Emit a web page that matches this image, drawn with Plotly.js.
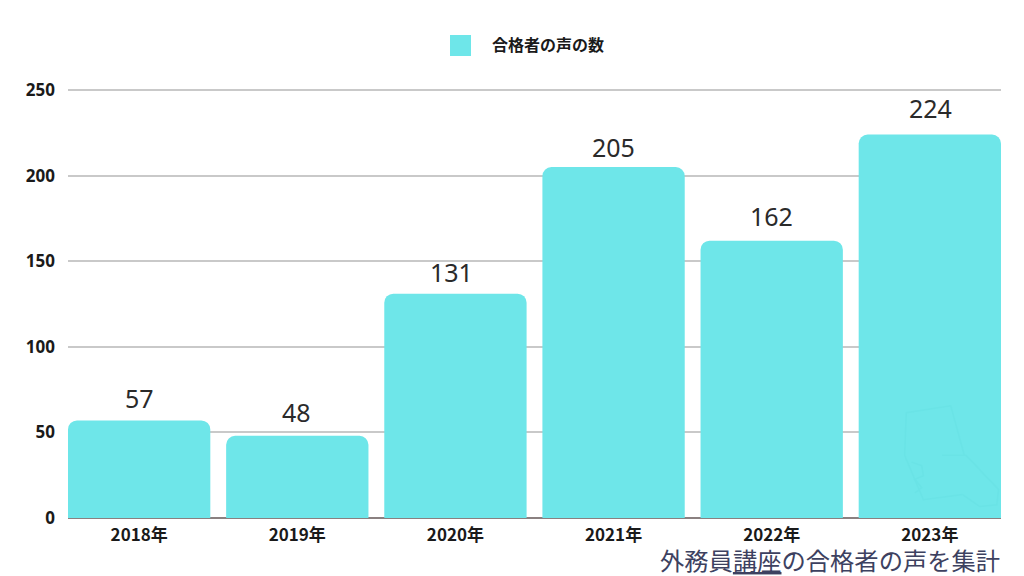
<!DOCTYPE html>
<html><head><meta charset="utf-8">
<script src="https://cdn.plot.ly/plotly-3.0.1.min.js"></script>
<style>html,body{margin:0;padding:0;background:#fff}#c{width:1024px;height:576px}</style>
</head><body><div id="c"></div>
<script>
const categories = ["2018年","2019年","2020年","2021年","2022年","2023年"];
const values = [57,48,131,205,162,224];
const seriesName = "合格者の声の数";
const footnote = "外務員<u>講座</u>の合格者の声を集計";
const yTicks = [0,50,100,150,200,250];
const labelShiftX = [0,-1,-4,0,0,1];
const labelShiftY = [3,5,3,1,6,8];
const W=1024,H=576,L=68,R=1001,T=88,B=518;
const font='"Noto Sans CJK JP","Noto Sans",sans-serif';
const px=x=>(x-L)/(R-L), py=y=>(B-y)/(B-T);
const wm=(pts)=>pts.map((p,i)=>(i?'L':'M')+px(850+p[0]/2.93).toFixed(4)+','+py(370+p[1]/2.93).toFixed(4)).join(' ');
const watermark=[
 [[160,250],[165,125],[295,105],[335,250]],
 [[160,250],[215,380],[330,365]],
 [[270,250],[340,250],[435,350],[430,395],[380,400],[330,365]],
 [[180,270],[210,280],[215,310],[190,320],[210,345],[190,360]]
];
const labelAnn=categories.map((c,i)=>({xref:'x',yref:'y',x:c,y:values[i],xanchor:'center',yanchor:'bottom',showarrow:false,
  text:String(values[i]),xshift:labelShiftX[i],yshift:labelShiftY[i]+1,borderpad:0,
  font:{family:'"Noto Sans",sans-serif',size:25,color:'#2a2a2a'}}));
Plotly.newPlot('c',[{
  type:'bar',x:categories,y:values,name:seriesName,
  marker:{color:'#6ee6e9',line:{width:0}},
  width:0.9
}],{
  width:W,height:H,paper_bgcolor:'#fff',plot_bgcolor:'#fff',showlegend:false,
  margin:{l:L,r:W-R,t:T,b:H-B},
  barcornerradius:9,
  xaxis:{type:'category',range:[-0.45,5.45],showgrid:false,zeroline:false,showline:false,ticks:'',
    tickfont:{family:font,size:17,color:'#1a1a1a',weight:700},ticklabelstandoff:5,fixedrange:true},
  yaxis:{range:[0,251.17],tickvals:yTicks,gridcolor:'#c9c9c9',gridwidth:2,zeroline:true,zerolinecolor:'#8a8080',zerolinewidth:2,
    showline:false,ticks:'',tickfont:{family:'"Noto Sans",sans-serif',size:17,color:'#1a1a1a',weight:700},ticklabelstandoff:12,fixedrange:true},
  shapes:[{type:'rect',xref:'paper',yref:'paper',layer:'above',
    x0:px(450),x1:px(471),y0:py(56),y1:py(35),
    fillcolor:'#6ee6e9',line:{width:0}}].concat(watermark.map(p=>({type:'path',xref:'paper',yref:'paper',layer:'above',path:wm(p),line:{color:'#6ae3e6',width:1.5}}))),
  annotations:labelAnn.concat([
    {xref:'paper',yref:'paper',x:px(491),y:py(44),xanchor:'left',yanchor:'middle',showarrow:false,
     text:seriesName,font:{family:font,size:16,color:'#1a1a1a',weight:700},borderpad:0},
    {xref:'paper',yref:'paper',x:1,y:py(559),xanchor:'right',yanchor:'middle',showarrow:false,
     text:footnote,font:{family:font,size:24.3,color:'#3d4160'},borderpad:0}
  ])
},{displayModeBar:false,staticPlot:true});
</script></body></html>
